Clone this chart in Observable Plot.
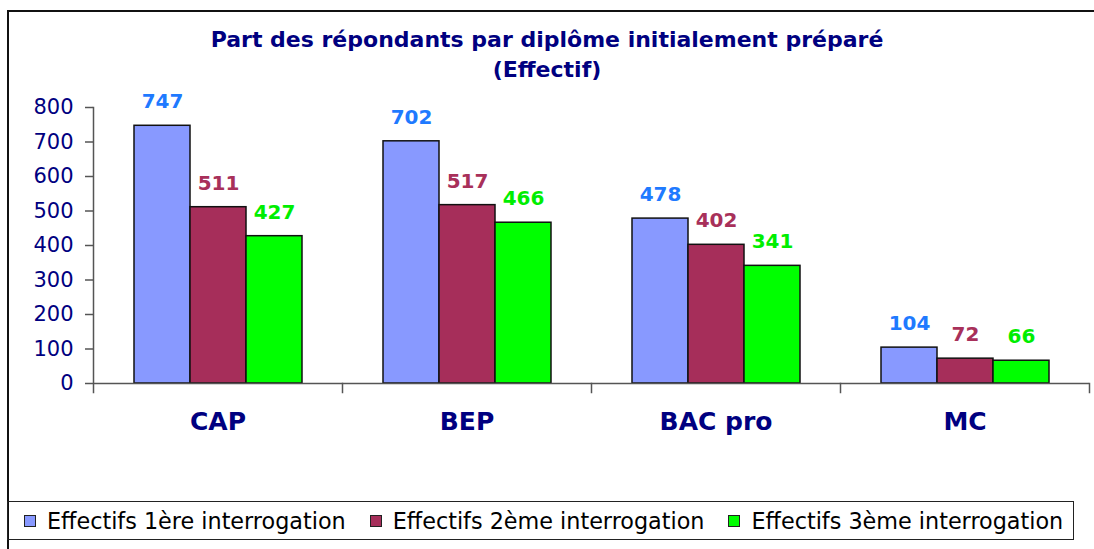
<!DOCTYPE html>
<html><head><meta charset="utf-8">
<script src="https://cdn.jsdelivr.net/npm/d3@7"></script>
<script src="https://cdn.jsdelivr.net/npm/@observablehq/plot@0.6"></script>
<style>
html,body{margin:0;padding:0;background:#fff;width:1094px;height:549px;overflow:hidden;font-family:"DejaVu Sans",sans-serif;}
#frame{position:absolute;left:7px;top:10px;width:1094px;height:560px;border-left:2px solid #111;border-top:2px solid #111;}
#title{position:absolute;left:0;top:25px;width:1094px;text-align:center;font-weight:bold;font-size:22px;line-height:30px;color:#000080;}
#chart{position:absolute;left:0;top:90px;}
#legend{position:absolute;left:7px;top:501px;width:1049px;height:37px;border:1.5px solid #222;display:flex;align-items:center;padding-left:16px;box-sizing:content-box;}
.item{display:flex;align-items:center;margin-right:24px;font-size:22.3px;color:#000;white-space:nowrap;}
.sw{width:10px;height:10px;border:1.5px solid #222;margin-right:11px;}
</style>
</head><body>
<div id="frame"></div>
<div id="title">Part des répondants par diplôme initialement préparé<br>(Effectif)</div>
<div id="chart"></div>
<div id="legend"></div>
<script>
const categories = ["CAP", "BEP", "BAC pro", "MC"];
const series = ["Effectifs 1ère interrogation", "Effectifs 2ème interrogation", "Effectifs 3ème interrogation"];
const values1 = [747, 702, 478, 104];
const values2 = [511, 517, 402, 72];
const values3 = [427, 466, 341, 66];
const yTicks = [0, 100, 200, 300, 400, 500, 600, 700, 800];
const barColors = ["#8899ff", "#a62e5a", "#00ff00"];
const labelColors = ["#1f7aff", "#a8305a", "#00ee00"];

const valuesBySeries = [values1, values2, values3];
const data = series.flatMap((s, i) => categories.map((c, j) => ({category: c, series: s, value: valuesBySeries[i][j]})));

const H = 360, MT = 17, MB = 58, tickLen = 9;
const chart = Plot.plot({
  width: 1094, height: H,
  marginLeft: 93, marginRight: 5, marginTop: MT, marginBottom: MB,
  style: {fontFamily: "DejaVu Sans, sans-serif", background: "transparent", overflow: "visible"},
  fx: {domain: categories, padding: 0, label: null},
  x: {domain: series, paddingInner: 0, paddingOuter: 0.723, axis: null},
  y: {domain: [0, 800], insetBottom: tickLen, label: null},
  color: {domain: series, range: barColors},
  marks: [
    Plot.barY(data, {fx: "category", x: "series", y: "value", fill: "series", stroke: "#111", strokeWidth: 1.5}),
    ...series.map((s, i) => Plot.text(data.filter(d => d.series === s), {
      fx: "category", x: "series", y: "value", text: d => String(d.value),
      dy: -24, fill: labelColors[i], fontSize: 20, fontWeight: "bold"
    })),
    Plot.ruleY([0], {stroke: "#555", strokeWidth: 1.5}),
    Plot.frame({anchor: "left", facetAnchor: "left", stroke: "#555", strokeWidth: 1.5}),
    Plot.frame({anchor: "right", insetTop: H - MT - MB - tickLen, stroke: "#555", strokeWidth: 1.5}),
    Plot.axisY({ticks: yTicks, tickSize: 8, tickPadding: 12, tickFormat: d => String(d), fontSize: 21, fill: "#000080", stroke: "#555", strokeWidth: 1.5, label: null}),
    Plot.axisFx({anchor: "bottom", tickSize: 0, tickPadding: 20, fontSize: 25, fontWeight: "bold", fill: "#000080", label: null})
  ]
});
document.getElementById("chart").appendChild(chart);

const legend = document.getElementById("legend");
series.forEach((s, i) => {
  const item = document.createElement("div");
  item.className = "item";
  const sw = document.createElement("span");
  sw.className = "sw";
  sw.style.background = barColors[i];
  const t = document.createElement("span");
  t.textContent = s;
  item.appendChild(sw);
  item.appendChild(t);
  legend.appendChild(item);
});
</script>
</body></html>
